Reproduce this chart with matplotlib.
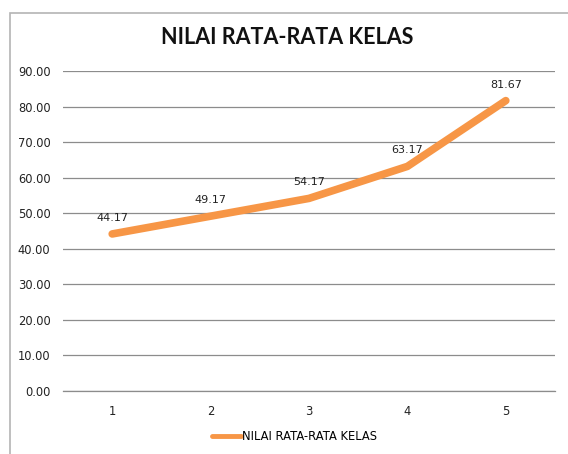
import matplotlib.pyplot as plt
from matplotlib.patches import Rectangle

# data
kelas = ['1', '2', '3', '4', '5']
nilai = [44.17, 49.17, 54.17, 63.17, 81.67]
y_ticks = [0, 10, 20, 30, 40, 50, 60, 70, 80, 90]

orange = '#F79646'
grid_col = '#8c8c8c'

plt.rcParams['font.family'] = ['DejaVu Sans']

fig = plt.figure(figsize=(5.68, 4.54), dpi=100)
fig.patch.set_facecolor('white')

# chart border (runs past right / bottom edge like in the screenshot)
fig.patches.append(Rectangle((10 / 568, -0.05), 1.0, 1 - 13 / 454 + 0.05,
                             transform=fig.transFigure, fill=False,
                             edgecolor='#b4b4b4', linewidth=1.2, clip_on=False))

ax = fig.add_axes([63 / 568, 1 - 391 / 454, (555 - 63) / 568, (391 - 71) / 454])

x = range(len(kelas))
ax.plot(x, nilai, color=orange, linewidth=5.5, solid_capstyle='round',
        solid_joinstyle='round', label='NILAI RATA-RATA KELAS', zorder=3)

for xi, v in zip(x, nilai):
    ax.annotate('%.2f' % v, (xi, v), xytext=(0, 8), textcoords='offset points',
                ha='center', va='bottom', fontsize=8, color='#222222')

ax.set_xlim(-0.5, len(kelas) - 0.5)
ax.set_ylim(0, 90)
ax.set_xticks(list(x))
ax.set_xticklabels(kelas)
ax.set_yticks(y_ticks)
ax.set_yticklabels(['%.2f' % t for t in y_ticks])
ax.tick_params(length=0, labelsize=8.3, colors='#222222')
ax.tick_params(axis='y', pad=9)
ax.tick_params(axis='x', pad=10)

ax.grid(axis='y', color=grid_col, linewidth=0.9)
ax.set_axisbelow(True)
for s in ['left', 'right', 'top']:
    ax.spines[s].set_visible(False)
ax.spines['bottom'].set_color(grid_col)
ax.spines['bottom'].set_linewidth(0.9)

fig.text(0.505, 1 - 37 / 454, 'NILAI RATA-RATA KELAS', ha='center', va='center',
         fontsize=15.5, fontweight='bold', family=['Lato', 'DejaVu Sans'], color='#111111')

leg = fig.legend(loc='center', bbox_to_anchor=(0.518, 1 - 437 / 454), frameon=False,
                 fontsize=8.3, handlelength=2.5, handletextpad=0.1)
for h in leg.get_lines():
    h.set_linewidth(3.5)

fig.savefig('out.png', dpi=100)
